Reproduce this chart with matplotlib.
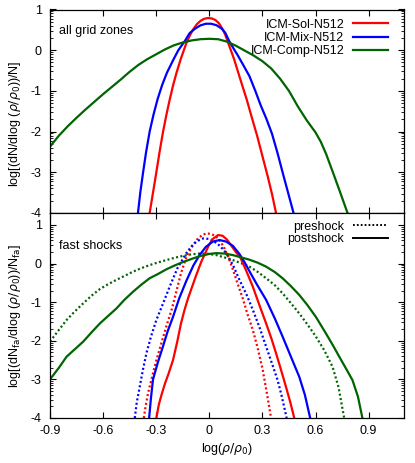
import numpy as np
import matplotlib
matplotlib.use("Agg")
import matplotlib.pyplot as plt

plt.rcParams['font.family'] = ['Liberation Sans', 'DejaVu Sans']
plt.rcParams['font.size'] = 9
plt.rcParams['axes.unicode_minus'] = False

RED = '#ff0000'
BLUE = '#0000ff'
GREEN = '#006400'

# ---------------------------------------------------------------
# Top panel: all grid zones
# ---------------------------------------------------------------
sol_x = [-0.337, -0.318, -0.30, -0.281, -0.262, -0.243, -0.224, -0.205, -0.185, -0.16, -0.13,
         -0.11, -0.093, -0.07, -0.05, -0.03, -0.008, 0.015, 0.035, 0.055, 0.076, 0.09,
         0.105, 0.12, 0.14, 0.17, 0.19, 0.212, 0.24, 0.27, 0.30, 0.33, 0.355, 0.377]
sol_y = [-4.0, -3.5, -3.02, -2.5, -2.02, -1.6, -1.22, -0.87, -0.55, -0.2, 0.17,
         0.36, 0.50, 0.64, 0.72, 0.77, 0.79, 0.78, 0.74, 0.66, 0.51, 0.38,
         0.2, 0.02, -0.22, -0.64, -0.92, -1.22, -1.65, -2.1, -2.6, -3.1, -3.55, -4.0]

mix_x = [-0.403, -0.39, -0.374, -0.357, -0.337, -0.315, -0.292, -0.266, -0.239, -0.205,
         -0.175, -0.139, -0.111, -0.08, -0.05, -0.02, 0.01, 0.04, 0.07, 0.09, 0.114, 0.14,
         0.16, 0.19, 0.227, 0.26, 0.29, 0.322, 0.354, 0.385, 0.414, 0.445, 0.476]
mix_y = [-4.0, -3.5, -3.0, -2.5, -2.0, -1.58, -1.2, -0.85, -0.55, -0.25,
         0.0, 0.22, 0.42, 0.53, 0.61, 0.65, 0.65, 0.615, 0.53, 0.43, 0.21, 0.02,
         -0.12, -0.35, -0.64, -1.0, -1.35, -1.68, -2.05, -2.52, -3.0, -3.5, -4.0]

comp_x = [-0.9, -0.85, -0.8, -0.75, -0.7, -0.65, -0.6, -0.55, -0.5, -0.45, -0.4, -0.35,
          -0.3, -0.25, -0.2, -0.15, -0.1, -0.05, 0.0, 0.05, 0.1, 0.15, 0.2, 0.25, 0.3,
          0.35, 0.4, 0.45, 0.5, 0.55, 0.6, 0.63, 0.66, 0.7, 0.74, 0.781]
comp_y = [-2.37, -2.1, -1.87, -1.66, -1.46, -1.27, -1.08, -0.9, -0.72, -0.53, -0.36, -0.22,
          -0.10, 0.02, 0.12, 0.19, 0.24, 0.27, 0.28, 0.27, 0.21, 0.11, -0.01, -0.13, -0.27,
          -0.45, -0.70, -1.0, -1.38, -1.72, -2.02, -2.25, -2.55, -3.02, -3.5, -4.0]

# ---------------------------------------------------------------
# Bottom panel: fast shocks, preshock (dotted) and postshock (solid)
# ---------------------------------------------------------------
sol_post_x = [-0.299, -0.285, -0.27, -0.25, -0.23, -0.205, -0.18, -0.16, -0.14, -0.12,
              -0.097, -0.074, -0.045, -0.02, 0.0, 0.02, 0.05, 0.075, 0.10, 0.125, 0.15,
              0.175, 0.21, 0.246, 0.285, 0.321, 0.35, 0.377, 0.405, 0.433, 0.458, 0.48]
sol_post_y = [-4.0, -3.65, -3.4, -3.1, -2.85, -2.5, -2.0, -1.55, -1.2, -0.9,
              -0.6, -0.3, 0.05, 0.3, 0.5, 0.64, 0.74, 0.72, 0.62, 0.46, 0.3,
              0.16, -0.2, -0.6, -1.1, -1.55, -1.93, -2.32, -2.75, -3.19, -3.6, -4.0]

mix_post_x = [-0.34, -0.33, -0.318, -0.29, -0.262, -0.235, -0.205, -0.17, -0.13, -0.09,
              -0.055, -0.02, 0.02, 0.058, 0.095, 0.133, 0.17, 0.2, 0.227, 0.27, 0.321,
              0.37, 0.414, 0.46, 0.508, 0.54, 0.57]
mix_post_y = [-4.0, -3.5, -3.0, -2.55, -2.15, -1.75, -1.38, -0.9, -0.45, -0.05,
              0.22, 0.43, 0.57, 0.61, 0.57, 0.46, 0.25, 0.03, -0.2, -0.55, -0.94,
              -1.42, -1.89, -2.4, -2.93, -3.4, -4.0]

comp_post_x = [-0.9, -0.85, -0.806, -0.76, -0.712, -0.665, -0.618, -0.57, -0.524, -0.48,
               -0.431, -0.385, -0.337, -0.29, -0.243, -0.196, -0.149, -0.1, -0.055, 0.0,
               0.039, 0.085, 0.133, 0.18, 0.227, 0.275, 0.321, 0.37, 0.414, 0.46, 0.508,
               0.555, 0.602, 0.659, 0.70, 0.734, 0.77, 0.809, 0.84, 0.865]
comp_post_y = [-3.0, -2.7, -2.41, -2.22, -2.02, -1.78, -1.55, -1.35, -1.16, -0.94,
               -0.73, -0.55, -0.38, -0.27, -0.15, -0.05, 0.04, 0.12, 0.19, 0.25,
               0.27, 0.26, 0.22, 0.16, 0.10, 0.02, -0.08, -0.22, -0.38, -0.58, -0.81,
               -1.08, -1.38, -1.81, -2.13, -2.41, -2.7, -3.02, -3.45, -4.0]

sol_pre_x = [-0.370, -0.36, -0.346, -0.323, -0.299, -0.27, -0.243, -0.21, -0.186, -0.16,
             -0.13, -0.1, -0.07, -0.04, -0.017, 0.01, 0.039, 0.06, 0.08, 0.105, 0.133,
             0.16, 0.189, 0.215, 0.246, 0.275, 0.302, 0.325, 0.349]
sol_pre_y = [-4.0, -3.7, -3.36, -2.93, -2.5, -2.05, -1.63, -1.15, -0.72, -0.25,
             0.16, 0.42, 0.62, 0.74, 0.78, 0.77, 0.70, 0.58, 0.45, 0.2, -0.15,
             -0.52, -0.9, -1.3, -1.72, -2.22, -2.76, -3.35, -4.0]

mix_pre_x = [-0.421, -0.41, -0.393, -0.375, -0.355, -0.33, -0.299, -0.26, -0.224, -0.18,
             -0.13, -0.1, -0.07, -0.036, -0.005, 0.02, 0.06, 0.096, 0.135, 0.17, 0.21,
             0.246, 0.285, 0.321, 0.355, 0.386, 0.41, 0.437]
mix_pre_y = [-4.0, -3.6, -3.19, -2.75, -2.32, -1.9, -1.46, -1.02, -0.6, -0.12,
             0.27, 0.45, 0.58, 0.65, 0.64, 0.60, 0.46, 0.27, -0.05, -0.42, -0.8,
             -1.2, -1.67, -2.15, -2.6, -3.02, -3.45, -4.0]

comp_pre_x = [-0.9, -0.85, -0.806, -0.76, -0.712, -0.665, -0.618, -0.57, -0.524, -0.475,
              -0.431, -0.385, -0.337, -0.29, -0.243, -0.196, -0.149, -0.1, -0.055, -0.01,
              0.039, 0.085, 0.133, 0.18, 0.227, 0.275, 0.321, 0.37, 0.414, 0.46, 0.508,
              0.555, 0.602, 0.65, 0.696, 0.73, 0.762]
comp_pre_y = [-2.02, -1.72, -1.46, -1.24, -1.03, -0.83, -0.66, -0.53, -0.42, -0.31,
              -0.21, -0.12, -0.04, 0.03, 0.09, 0.15, 0.20, 0.24, 0.26, 0.255,
              0.22, 0.16, 0.09, 0.01, -0.08, -0.22, -0.38, -0.56, -0.77, -1.02, -1.29,
              -1.58, -1.89, -2.25, -2.67, -3.2, -4.0]

xticks = [-0.9, -0.6, -0.3, 0, 0.3, 0.6, 0.9]
xtick_labels = ['-0.9', '-0.6', '-0.3', '0', '0.3', '0.6', '0.9']
yticks = [-4, -3, -2, -1, 0, 1]

DOT = (0, (0.9, 1.1))
LW = 1.6


def style_axes(ax, ytop):
    ax.set_xlim(-0.9, 1.1)
    ax.set_ylim(-4, ytop)
    ax.set_xticks(xticks)
    ax.set_yticks(yticks)
    # log-like minor ticks inside each unit
    minor = [n + np.log10(k) for n in range(-4, 2) for k in range(2, 10)]
    minor = [m for m in minor if m < ytop]
    ax.set_yticks(minor, minor=True)
    ax.tick_params(direction='in', which='both', top=True, right=True, labelsize=9)
    ax.tick_params(which='major', length=4.5, width=0.8)
    ax.tick_params(which='minor', length=2.3, width=0.6)
    ax.tick_params(axis='y', pad=6)
    ax.tick_params(axis='x', pad=5)
    ax.tick_params(axis='x', which='minor', top=False, bottom=False)
    for s in ax.spines.values():
        s.set_linewidth(0.9)


fig = plt.figure(figsize=(4.15, 4.63), dpi=100)
W, H = 415, 463
ax1 = fig.add_axes([50 / W, 1 - 213 / H, 354 / W, 203.5 / H])
ax2 = fig.add_axes([50 / W, 1 - 418 / H, 354 / W, 205 / H])

# top panel
ax1.plot(sol_x, sol_y, color=RED, lw=LW, label='ICM-Sol-N512')
ax1.plot(mix_x, mix_y, color=BLUE, lw=LW, label='ICM-Mix-N512')
ax1.plot(comp_x, comp_y, color=GREEN, lw=LW, label='ICM-Comp-N512')
style_axes(ax1, 1.0)
ax1.set_xticklabels([])
ax1.set_ylabel(r'log[(dN/dlog ($\rho/\rho_0$))/N]', fontsize=9)
ax1.yaxis.set_label_coords(-0.075, 0.44)
ax1.text(-0.85, 0.46, 'all grid zones', fontsize=9, va='center', ha='left')
ax1.legend(loc='upper right', bbox_to_anchor=(0.955, 0.955), frameon=False,
           markerfirst=False, borderaxespad=0, borderpad=0, labelspacing=0.1,
           handlelength=2.8, handletextpad=0.7, fontsize=9)

# bottom panel
ax2.plot(sol_pre_x, sol_pre_y, color=RED, lw=LW, ls=DOT)
ax2.plot(mix_pre_x, mix_pre_y, color=BLUE, lw=LW, ls=DOT)
ax2.plot(comp_pre_x, comp_pre_y, color=GREEN, lw=LW, ls=DOT)
ax2.plot(sol_post_x, sol_post_y, color=RED, lw=LW)
ax2.plot(mix_post_x, mix_post_y, color=BLUE, lw=LW)
ax2.plot(comp_post_x, comp_post_y, color=GREEN, lw=LW)
ax2.plot([], [], color='black', lw=1.4, ls=DOT, label='preshock')
ax2.plot([], [], color='black', lw=1.4, label='postshock')
style_axes(ax2, 1.31)
ax2.set_xticklabels(xtick_labels)
ax2.set_xlabel(r'log($\rho/\rho_0$)', fontsize=9, labelpad=3)
ax2.set_ylabel(r'log[(dN$_{\rm fa}$/dlog ($\rho/\rho_0$))/N$_{\rm fa}$]', fontsize=9)
ax2.yaxis.set_label_coords(-0.075, 0.5)
ax2.text(-0.85, 0.46, 'fast shocks', fontsize=9, va='center', ha='left')
ax2.legend(loc='upper right', bbox_to_anchor=(0.955, 0.962), frameon=False,
           markerfirst=False, borderaxespad=0, borderpad=0, labelspacing=0.05,
           handlelength=2.8, handletextpad=0.7, fontsize=9)

fig.savefig('out.png', dpi=100)
